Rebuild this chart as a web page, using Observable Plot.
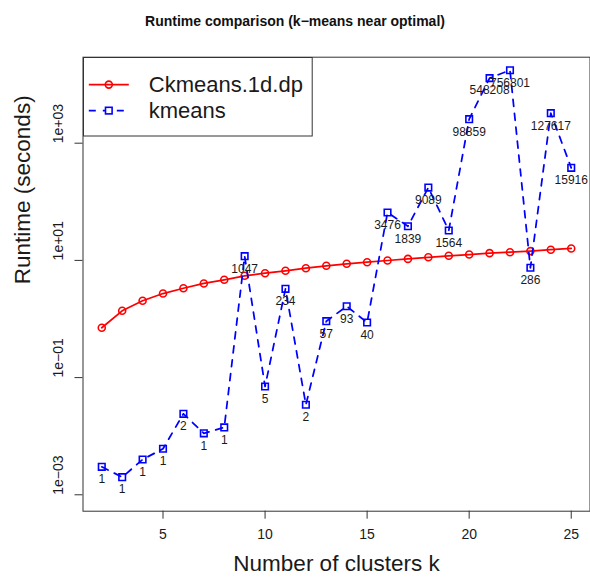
<!DOCTYPE html>
<html>
<head>
<meta charset="utf-8">
<script src="https://cdn.jsdelivr.net/npm/d3@7"></script>
<script src="https://cdn.jsdelivr.net/npm/@observablehq/plot@0.6"></script>
<style>
  html, body { margin: 0; padding: 0; background: #fff; }
  #wrap { position: relative; width: 590px; height: 579px; background: #fff; font-family: "Liberation Sans", Arial, sans-serif; }
  #title { height: 40px; line-height: 40px; padding-top: 1px; box-sizing: border-box; text-align: center; font-weight: bold; font-size: 14px; color: #111; }
  #legend { position: absolute; left: 82.5px; top: 56.7px; }
</style>
</head>
<body>
<div id="wrap">
  <div id="title">Runtime comparison (k−means near optimal)</div>
  <div id="chart"></div>
  <div id="legend"></div>
</div>
<script>
// ---- data ----
const clusters = [2,3,4,5,6,7,8,9,10,11,12,13,14,15,16,17,18,19,20,21,22,23,24,25];
const ckmeansRuntime = [0.71,1.38,2.05,2.72,3.35,4.04,4.67,5.46,6.05,6.65,7.36,8.09,8.75,9.31,9.96,10.6,11.3,12.0,12.6,13.3,13.8,14.4,15.2,16.0];
const kmeansRuntime = [0.0030,0.0020,0.0040,0.0061,0.0241,0.0112,0.0141,11.8,0.0705,3.27,0.0344,0.917,1.65,0.871,65.6,38.3,175,32.4,2570,12900,17600,7.48,3250,380];
const kmeansLabels = ["1","1","1","1","2","1","1","1047","5","234","2","57","93","40","3476","1839","9089","1564","98859","548208","756801","286","127617","15916"];
const xTicks = [5,10,15,20,25];
const yTicks = [1e-3,1e-1,1e1,1e3];
const yTickLabels = ["1e−03","1e−01","1e+01","1e+03"];
const seriesNames = ["Ckmeans.1d.dp","kmeans"];

// tables built from the arrays
const ck = clusters.map((k,i) => ({k, v: ckmeansRuntime[i]}));
const km = clusters.map((k,i) => ({k, v: kmeansRuntime[i], label: kmeansLabels[i]}));

const FONT = "Liberation Sans, Arial, sans-serif";
const INK = "#1a1a1a";

const chart = Plot.plot({
  width: 590,
  height: 539,
  marginTop: 16.7,
  marginBottom: 68.3,
  marginLeft: 82.5,
  marginRight: 0.5,
  style: {fontFamily: FONT, background: "white", color: INK},
  x: {domain: [1.08, 25.92]},
  y: {type: "log", domain: [Math.pow(10,-3.28), Math.pow(10,4.4676)]},
  marks: [
    Plot.frame({stroke: "#333", strokeWidth: 1}),
    Plot.axisX({ticks: xTicks, tickSize: 8, tickFormat: () => "", stroke: "#333", label: null}),
    Plot.axisY({ticks: yTicks, tickSize: 8, tickFormat: () => "", stroke: "#333", label: null}),
    Plot.text(xTicks, {x: d => d, text: d => String(d), frameAnchor: "bottom", dy: 28.1, fontSize: 14, fill: INK, fontFamily: FONT}),
    Plot.text(yTicks, {y: d => d, text: (d,i) => yTickLabels[i], frameAnchor: "left", dx: -24.3, rotate: -90, fontSize: 14, fill: INK, fontFamily: FONT}),
    Plot.text(["Number of clusters k"], {frameAnchor: "bottom", dy: 59.3, fontSize: 22.5, fill: INK, fontFamily: FONT}),
    Plot.text(["Runtime (seconds)"], {frameAnchor: "left", dx: -60.4, rotate: -90, fontSize: 22.5, fill: INK, fontFamily: FONT}),
    Plot.line(ck, {x: "k", y: "v", stroke: "#ff0000", strokeWidth: 1.75}),
    Plot.dot(ck, {x: "k", y: "v", r: 3.5, stroke: "#ff0000", strokeWidth: 1.6, fill: "none"}),
    Plot.line(km, {x: "k", y: "v", stroke: "#0000ff", strokeWidth: 1.75, strokeDasharray: "7,7"}),
    Plot.dot(km, {x: "k", y: "v", r: 3.7, symbol: "square", stroke: "#0000ff", strokeWidth: 1.6, fill: "none"}),
    Plot.text(km, {x: "k", y: "v", text: "label", dy: 12.5, fontSize: 12, fill: INK, fontFamily: FONT})
  ]
});
document.getElementById("chart").appendChild(chart);

// legend box (R-style, inside the top-left of the plot area)
const ns = "http://www.w3.org/2000/svg";
const lg = d3.select("#legend").append("svg")
  .attr("xmlns", ns).attr("width", 230).attr("height", 80);
lg.append("rect").attr("x", 0.5).attr("y", 0.5).attr("width", 228.7).attr("height", 78.5)
  .attr("fill", "white").attr("stroke", "#333").attr("stroke-width", 1);
const rows = [
  {name: seriesNames[0], color: "#ff0000", dash: null, sym: "circle", cy: 27.6, by: 35},
  {name: seriesNames[1], color: "#0000ff", dash: "7,7", sym: "square", cy: 53.6, by: 61.3}
];
rows.forEach(r => {
  const ln = lg.append("line").attr("x1", 5.8).attr("x2", 45.8).attr("y1", r.cy).attr("y2", r.cy)
    .attr("stroke", r.color).attr("stroke-width", 1.75);
  if (r.dash) ln.attr("stroke-dasharray", r.dash);
  if (r.sym === "circle") {
    lg.append("circle").attr("cx", 25.8).attr("cy", r.cy).attr("r", 3.5)
      .attr("fill", "none").attr("stroke", r.color).attr("stroke-width", 1.6);
  } else {
    lg.append("rect").attr("x", 25.8 - 3.3).attr("y", r.cy - 3.3).attr("width", 6.6).attr("height", 6.6)
      .attr("fill", "white").attr("stroke", r.color).attr("stroke-width", 1.6);
  }
  lg.append("text").attr("x", 65.8).attr("y", r.by).attr("font-size", 22)
    .attr("font-family", FONT).attr("fill", INK).text(r.name);
});
</script>
</body>
</html>
